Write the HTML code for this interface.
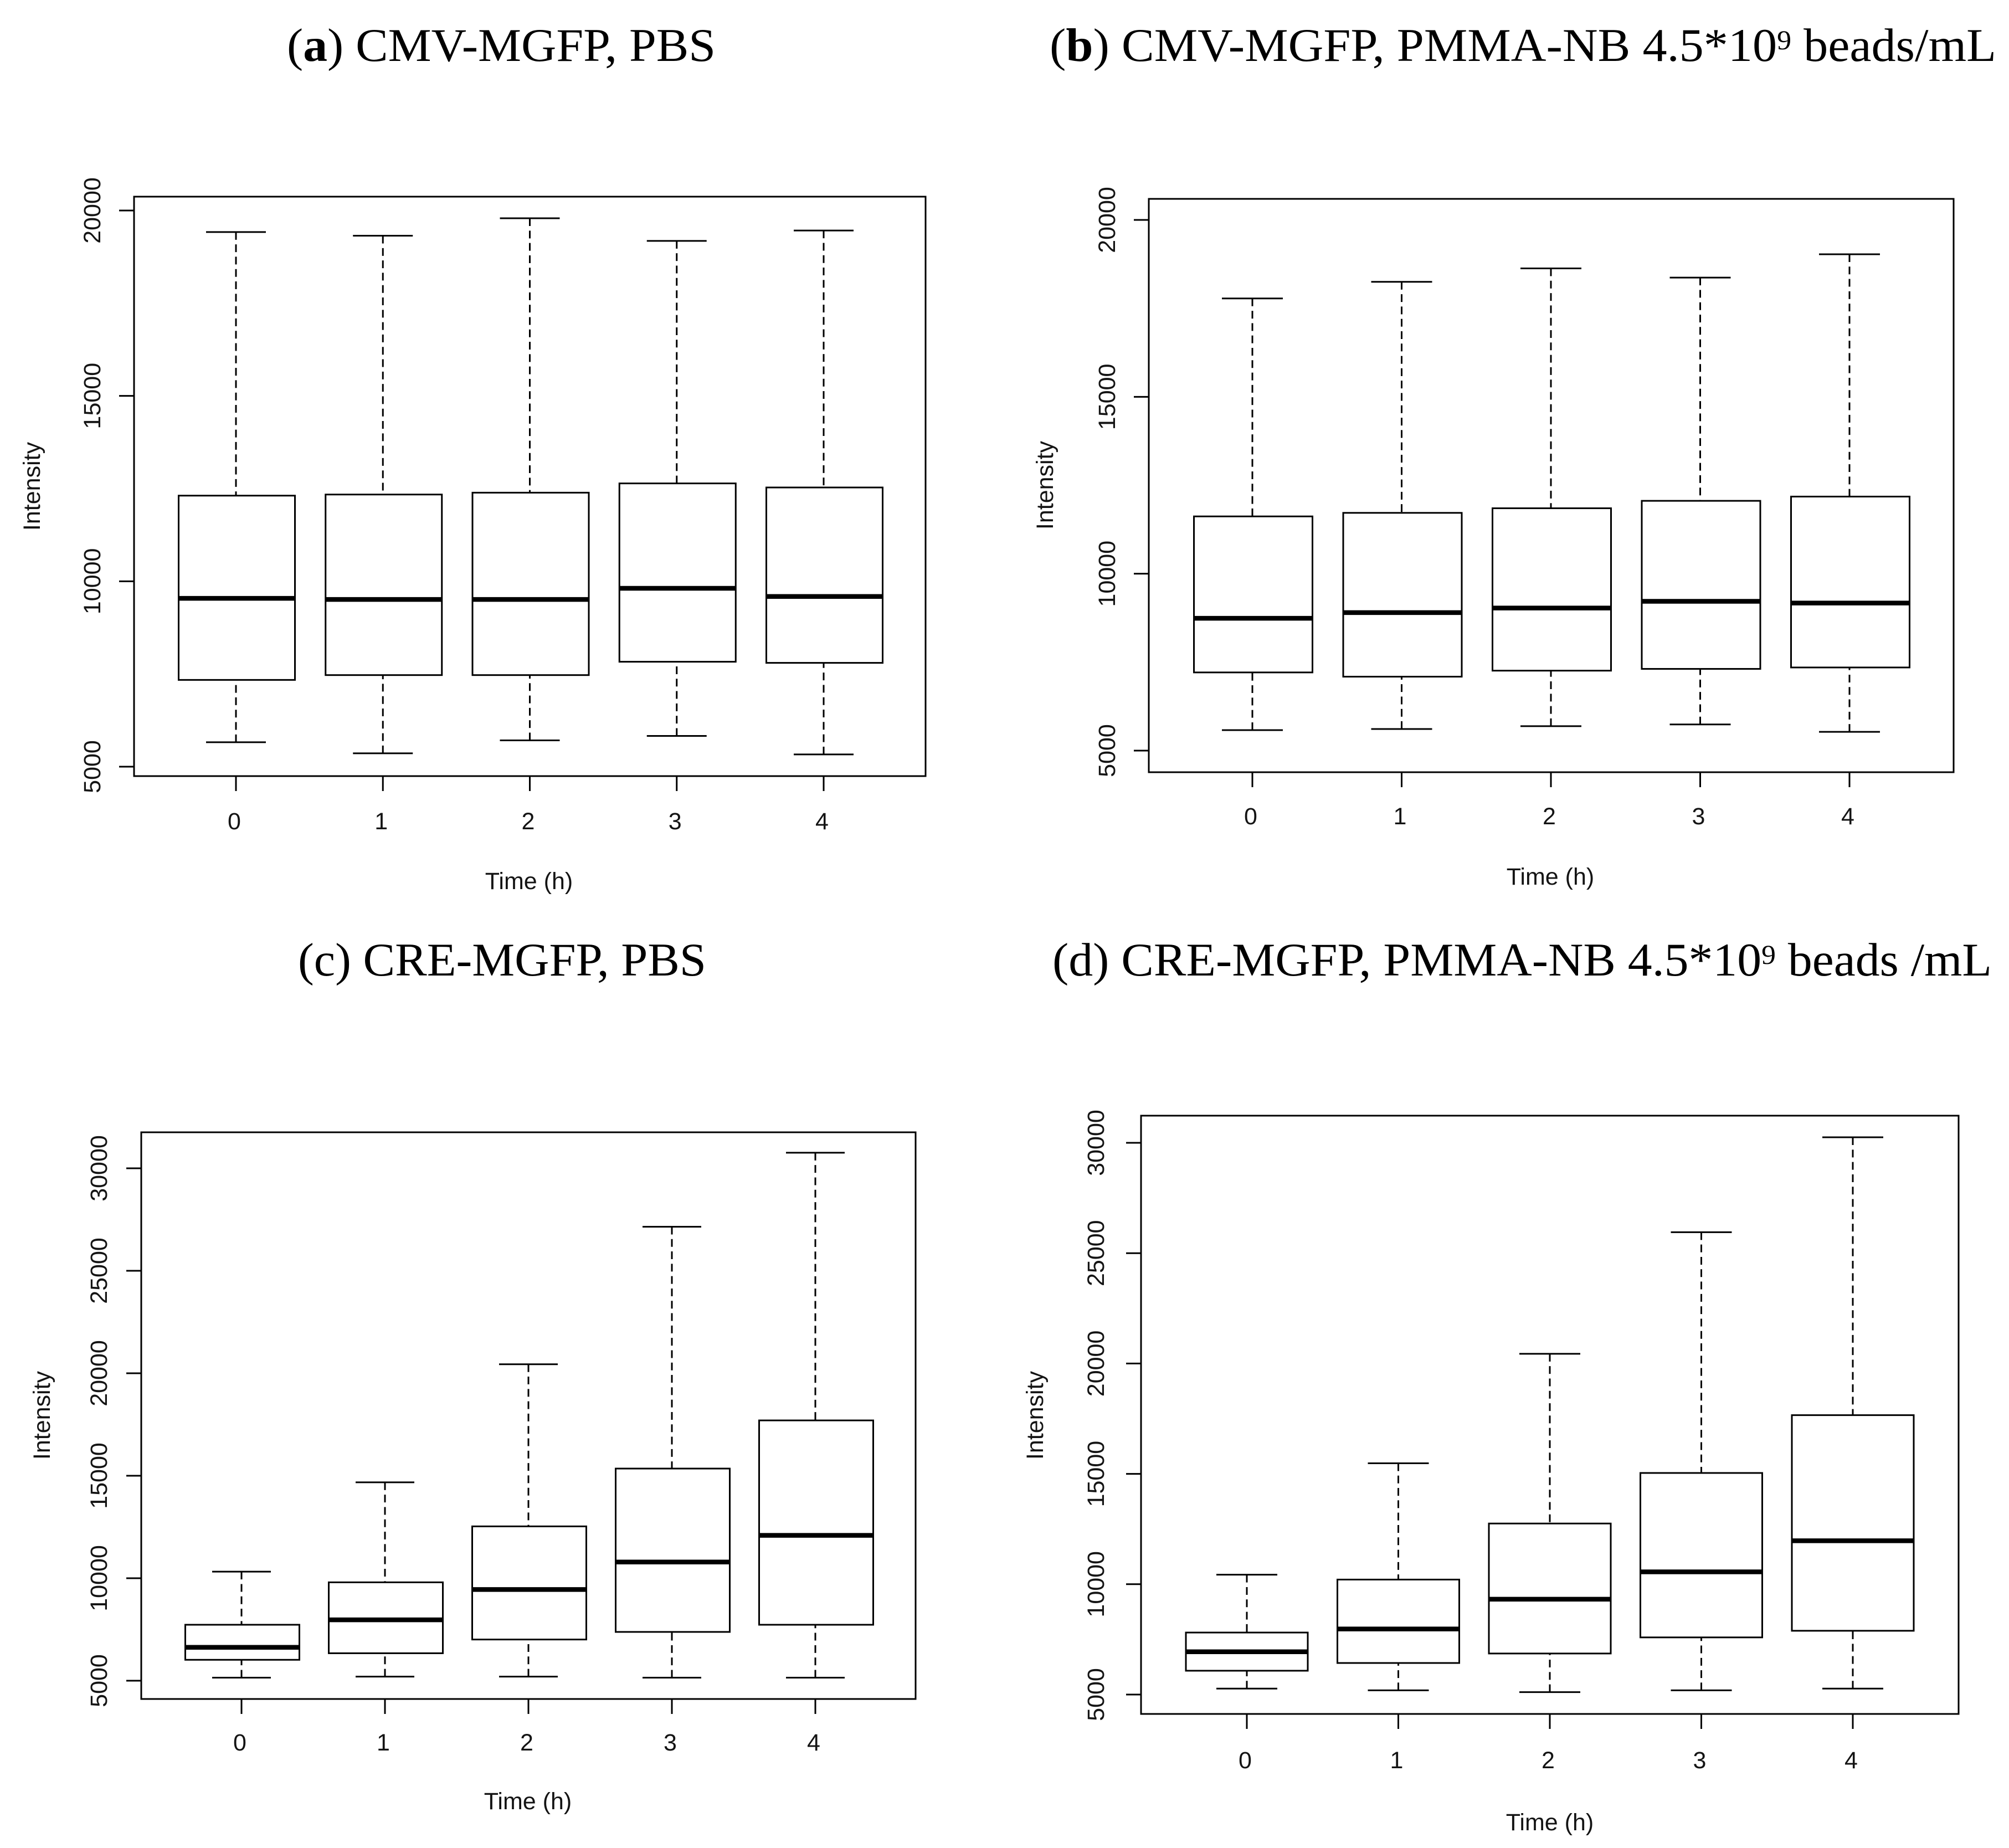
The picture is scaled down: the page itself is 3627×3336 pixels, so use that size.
<!DOCTYPE html>
<html lang="en">
<head>
<meta charset="utf-8">
<title>Intensity over time box plots</title>
<style>
html,body{margin:0;padding:0;background:#fff;}
svg{display:block;}
.title{font-family:"Liberation Serif",serif;font-size:85px;fill:#000;}
.axis{font-family:"Liberation Sans",Arial,sans-serif;font-size:43px;fill:#141414;}
</style>
</head>
<body>
<svg id="figure" xmlns="http://www.w3.org/2000/svg" width="3627" height="3336" viewBox="0 0 3627 3336">
  <rect x="0" y="0" width="3627" height="3336" fill="#ffffff"/>
  <text class="title" x="518" y="110" textLength="774" lengthAdjust="spacingAndGlyphs">(<tspan font-weight="bold">a</tspan>) CMV-MGFP, PBS</text>
  <text class="title" x="1895" y="110" textLength="1709" lengthAdjust="spacingAndGlyphs">(<tspan font-weight="bold">b</tspan>) CMV-MGFP, PMMA-NB 4.5*10<tspan font-size="50" dy="-21">9</tspan><tspan dy="21"> beads/mL</tspan></text>
  <text class="title" x="538" y="1761" textLength="737" lengthAdjust="spacingAndGlyphs">(c) CRE-MGFP, PBS</text>
  <text class="title" x="1900" y="1761" textLength="1696" lengthAdjust="spacingAndGlyphs">(d) CRE-MGFP, PMMA-NB 4.5*10<tspan font-size="50" dy="-21">9</tspan><tspan dy="21"> beads /mL</tspan></text>
  <g id="charts"></g>
</svg>
<script>
// Shared categories and tick labels
const timeCategories = ["0", "1", "2", "3", "4"];
const yTicksCMV = [5000, 10000, 15000, 20000];
const yTicksCRE = [5000, 10000, 15000, 20000, 25000, 30000];
const xAxisTitle = "Time (h)";
const yAxisTitle = "Intensity";

// Panel a: CMV-MGFP, PBS
const aWhiskerHigh = [19420, 19320, 19790, 19180, 19460];
const aQ3 = [12310, 12340, 12390, 12640, 12530];
const aMedian = [9540, 9510, 9510, 9810, 9590];
const aQ1 = [7340, 7470, 7470, 7830, 7800];
const aWhiskerLow = [5660, 5360, 5710, 5830, 5330];

// Panel b: CMV-MGFP, PMMA-NB
const bWhiskerHigh = [17780, 18250, 18630, 18370, 19030];
const bQ3 = [11620, 11720, 11850, 12060, 12180];
const bMedian = [8740, 8900, 9030, 9220, 9170];
const bQ1 = [7210, 7090, 7260, 7310, 7350];
const bWhiskerLow = [5580, 5610, 5690, 5740, 5530];

// Panel c: CRE-MGFP, PBS
const cWhiskerHigh = [10320, 14680, 20440, 27150, 30760];
const cQ3 = [7730, 9800, 12530, 15350, 17700];
const cMedian = [6630, 7970, 9450, 10790, 12090];
const cQ1 = [6020, 6340, 7010, 7380, 7730];
const cWhiskerLow = [5150, 5200, 5200, 5150, 5150];

// Panel d: CRE-MGFP, PMMA-NB
const dWhiskerHigh = [10430, 15480, 20440, 25950, 30250];
const dQ3 = [7810, 10210, 12750, 15040, 17660];
const dMedian = [6940, 7970, 9320, 10560, 11970];
const dQ1 = [6080, 6430, 6860, 7590, 7890];
const dWhiskerLow = [5270, 5190, 5110, 5190, 5270];

const SVGNS = "http://www.w3.org/2000/svg";
const root = document.getElementById("charts");

function makeLine(parent, x1, y1, x2, y2, width, dash) {
  const l = document.createElementNS(SVGNS, "line");
  l.setAttribute("x1", x1);
  l.setAttribute("y1", y1);
  l.setAttribute("x2", x2);
  l.setAttribute("y2", y2);
  l.setAttribute("stroke", "#000");
  l.setAttribute("stroke-width", width);
  if (dash) l.setAttribute("stroke-dasharray", dash);
  parent.appendChild(l);
  return l;
}

function makeText(parent, str, x, y, anchor, rotate) {
  const t = document.createElementNS(SVGNS, "text");
  t.setAttribute("class", "axis");
  t.setAttribute("x", x);
  t.setAttribute("y", y);
  t.setAttribute("text-anchor", anchor);
  if (rotate) t.setAttribute("transform", "rotate(-90 " + x + " " + y + ")");
  t.textContent = str;
  parent.appendChild(t);
  return t;
}

function drawPanel(p) {
  const g = document.createElementNS(SVGNS, "g");
  
  
  root.appendChild(g);

  const yScale = function (v) {
    return p.yBottom + (v - p.vBottom) * (p.yTop - p.yBottom) / (p.vTop - p.vBottom);
  };
  const xScale = function (i) {
    return p.xFirst + i * (p.xLast - p.xFirst) / (timeCategories.length - 1);
  };

  const frame = document.createElementNS(SVGNS, "rect");
  frame.setAttribute("x", p.left);
  frame.setAttribute("y", p.top);
  frame.setAttribute("width", p.right - p.left);
  frame.setAttribute("height", p.bottom - p.top);
  frame.setAttribute("fill", "none");
  frame.setAttribute("stroke", "#000");
  frame.setAttribute("stroke-width", 3);
  
  
  g.appendChild(frame);

  p.yTicks.forEach(function (v) {
    const y = yScale(v);
    const tick = makeLine(g, p.left - 27, y, p.left, y, 3);
    
    
    const label = makeText(g, String(v), p.yLabelX, y, "middle", true);
    
    
  });

  timeCategories.forEach(function (cat, i) {
    const x = xScale(i);
    const tick = makeLine(g, x, p.bottom, x, p.bottom + 27, 3);
    
    
    const label = makeText(g, cat, x - 3, p.xLabelY, "middle", false);
    
    

    const box = document.createElementNS(SVGNS, "g");
    
    
    g.appendChild(box);

    const yHi = yScale(p.hi[i]);
    const yQ3 = yScale(p.q3[i]);
    const yMed = yScale(p.med[i]);
    const yQ1 = yScale(p.q1[i]);
    const yLo = yScale(p.lo[i]);
    const boxLeft = x + p.boxShift - p.boxHalf;
    const boxRight = x + p.boxShift + p.boxHalf;

    const upper = makeLine(box, x, yHi, x, yQ3, 3, "14 8.3");
    
    
    const lower = makeLine(box, x, yLo, x, yQ1, 3, "14 8.3");
    
    
    const capHi = makeLine(box, x - p.capHalf, yHi, x + p.capHalf, yHi, 3);
    
    
    const capLo = makeLine(box, x - p.capHalf, yLo, x + p.capHalf, yLo, 3);
    
    

    const rect = document.createElementNS(SVGNS, "rect");
    rect.setAttribute("x", boxLeft);
    rect.setAttribute("y", yQ3);
    rect.setAttribute("width", boxRight - boxLeft);
    rect.setAttribute("height", yQ1 - yQ3);
    rect.setAttribute("fill", "#fff");
    rect.setAttribute("stroke", "#000");
    rect.setAttribute("stroke-width", 3);
    
    
    box.appendChild(rect);

    const median = makeLine(box, boxLeft, yMed, boxRight, yMed, 8.5);
    
    
  });

  const xt = makeText(g, xAxisTitle, p.xTitleX, p.xTitleY, "middle", false);
  
  
  const yt = makeText(g, yAxisTitle, p.yTitleX, p.yTitleY, "middle", true);
  
  
}

drawPanel({
  id: "a", hi: aWhiskerHigh, q3: aQ3, med: aMedian, q1: aQ1, lo: aWhiskerLow, yTicks: yTicksCMV,
  left: 242, right: 1671, top: 355, bottom: 1401,
  vBottom: 5000, yBottom: 1384, vTop: 20000, yTop: 380,
  xFirst: 426, xLast: 1487, boxHalf: 105, boxShift: 1.5, capHalf: 54,
  yLabelX: 181, xLabelY: 1497, xTitleX: 955, xTitleY: 1605, yTitleX: 72, yTitleY: 878
});
drawPanel({
  id: "b", hi: bWhiskerHigh, q3: bQ3, med: bMedian, q1: bQ1, lo: bWhiskerLow, yTicks: yTicksCMV,
  left: 2074, right: 3527, top: 359, bottom: 1394,
  vBottom: 5000, yBottom: 1355, vTop: 20000, yTop: 397,
  xFirst: 2261, xLast: 3339, boxHalf: 107, boxShift: 1.5, capHalf: 55,
  yLabelX: 2013, xLabelY: 1488, xTitleX: 2799, xTitleY: 1597, yTitleX: 1901, yTitleY: 876
});
drawPanel({
  id: "c", hi: cWhiskerHigh, q3: cQ3, med: cMedian, q1: cQ1, lo: cWhiskerLow, yTicks: yTicksCRE,
  left: 255, right: 1653, top: 2044, bottom: 3067,
  vBottom: 5000, yBottom: 3034, vTop: 30000, yTop: 2109,
  xFirst: 436, xLast: 1472, boxHalf: 103, boxShift: 1.5, capHalf: 53,
  yLabelX: 193, xLabelY: 3160, xTitleX: 953, xTitleY: 3266, yTitleX: 90, yTitleY: 2555
});
drawPanel({
  id: "d", hi: dWhiskerHigh, q3: dQ3, med: dMedian, q1: dQ1, lo: dWhiskerLow, yTicks: yTicksCRE,
  left: 2060, right: 3536, top: 2014, bottom: 3094,
  vBottom: 5000, yBottom: 3059, vTop: 30000, yTop: 2063,
  xFirst: 2251, xLast: 3345, boxHalf: 110, boxShift: 0, capHalf: 55,
  yLabelX: 1993, xLabelY: 3192, xTitleX: 2798, xTitleY: 3304, yTitleX: 1883, yTitleY: 2555
});
</script>
</body>
</html>
